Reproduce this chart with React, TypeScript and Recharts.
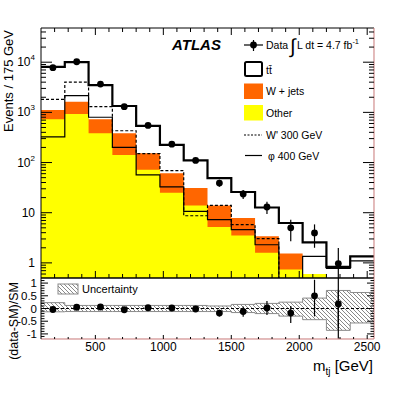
import { ComposedChart, Area, Line, Scatter, ErrorBar, XAxis, YAxis, ReferenceLine } from "recharts";

const FONT = "'Liberation Sans', Arial, Helvetica, sans-serif";
const FRAME_RED = "#c87878";
const TINY = 0.01; // axes need a non-zero size to be drawn

// 175 GeV bins
const EDGES = [100, 275, 450, 625, 800, 975, 1150, 1325, 1500, 1675, 1850, 2025, 2200, 2375, 2550];

// background stack, events per bin
const OTHER = [730, 930, 385, 142, 72, 25, 14, 5.2, 3.5, 1.6, 0.74, 0.6, 0, 0];
const WJETS = [390, 690, 345, 243, 82, 36.5, 17, 8.8, 4.35, 1.8, 0.8, 0, 0, 0];
const TTBAR = [6980, 8380, 2770, 955, 383, 163, 79, 35, 18, 9.3, 4.7, 1.97, 0.83, 1.35];

// signal hypotheses
const WPRIME_300 = [1820, 4000, 1300, 430, 150, 69, 8.7, 14, 5.8, 3.05, 0.3, 0.3, 0.3, 0.3];
const PHI_400 = [325, 2150, 800, 200, 57, 32.6, 10.6, 7.3, 4.6, 2.3, 0.3, 1.35, 0.78, 1.1];

// data
const DATA = [7760, 10200, 3670, 1300, 550, 232, 110, 39, 23.6, 13, 5.0, 3.95, 0.97];
const DATA_ERR_LO = [90, 100, 60, 36, 23, 15, 10.5, 6.2, 4.9, 3.6, 2.3, 1.95, 0.92];
const DATA_ERR_HI = [90, 100, 60, 36, 23, 15, 10.5, 6.2, 4.9, 3.6, 2.2, 1.9, 1.0];

// (data-SM)/SM
const RATIO = [-0.04, 0.05, 0.06, -0.05, 0.03, 0.02, -0.02, -0.18, -0.12, 0.02, -0.18, 0.5, 0.18];
const RATIO_ERR_LO = [0.01, 0.01, 0.02, 0.03, 0.04, 0.07, 0.09, 0.13, 0.2, 0.28, 0.39, 0.81, 1.37];
const RATIO_ERR_HI = [0.01, 0.01, 0.02, 0.03, 0.04, 0.07, 0.09, 0.13, 0.2, 0.28, 0.28, 0.63, 0.56];
const BAND_LO = [-0.13, -0.12, -0.12, -0.12, -0.12, -0.12, -0.12, -0.12, -0.16, -0.2, -0.3, -0.44, -0.86, -0.57];
const BAND_HI = [0.23, 0.12, 0.12, 0.12, 0.12, 0.12, 0.12, 0.1, 0.16, 0.2, 0.25, 0.41, 0.71, 0.63];

// axis ticks
const X_TICKS = [200, 300, 400, 500, 600, 700, 800, 900, 1000, 1100, 1200, 1300, 1400, 1500, 1600, 1700, 1800, 1900, 2000, 2100, 2200, 2300, 2400, 2500];
const X_LABELS = [500, 1000, 1500, 2000, 2500];
const LOG_MAJOR = [1, 10, 100, 1000, 10000];
const LOG_TICKS = [0.6, 0.7, 0.8, 0.9, ...LOG_MAJOR.flatMap((d) => [2, 3, 4, 5, 6, 7, 8, 9].map((m) => m * d).filter((v) => v < 48000)), ...LOG_MAJOR];
const R_MAJOR = [-1, -0.5, 0, 0.5, 1];
const R_TICKS = [-1.1, -1, -0.9, -0.8, -0.7, -0.6, -0.5, -0.4, -0.3, -0.2, -0.1, 0, 0.1, 0.2, 0.3, 0.4, 0.5, 0.6, 0.7, 0.8, 0.9, 1, 1.1];

const xTick = (dir: number, maj: number, min: number, labels: boolean) => (p: any) => {
    const v = p.payload.value;
    const isMaj = X_LABELS.includes(v);
    const len = isMaj ? maj : min;
    return (
        <g>
            <line x1={p.x} x2={p.x} y1={p.y} y2={p.y + dir * len} stroke="#000" strokeWidth={1} />
            {labels && isMaj && (
                <text x={p.x} y={p.y + 12} textAnchor="middle" fontSize={12} fontFamily={FONT} fill="#000">
                    {v}
                </text>
            )}
        </g>
    );
};

function LogLabel({ x, y, v }: { x: number; y: number; v: number }) {
    const exp = Math.round(Math.log10(v));
    if (exp <= 1) {
        return (
            <text x={x} y={y + 4} textAnchor="end" fontSize={12} fontFamily={FONT} fill="#000">
                {v}
            </text>
        );
    }
    return (
        <text x={x} y={y + 4} textAnchor="end" fontSize={12} fontFamily={FONT} fill="#000">
            10<tspan dy={-6} fontSize={8}>{exp}</tspan>
        </text>
    );
}

const logTick = (side: "left" | "right") => (p: any) => {
    const v = p.payload.value;
    const major = LOG_MAJOR.includes(v);
    const len = major ? 11 : 5;
    const dx = side === "left" ? len : -len;
    return (
        <g>
            <line x1={p.x} x2={p.x + dx} y1={p.y} y2={p.y} stroke="#000" strokeWidth={1} />
            {side === "left" && major && <LogLabel x={p.x - 6} y={p.y} v={v} />}
        </g>
    );
};

const ratioTick = (side: "left" | "right") => (p: any) => {
    const v = p.payload.value;
    const major = R_MAJOR.some((m) => Math.abs(m - v) < 1e-6);
    const len = major ? 7 : 3.5;
    const dx = side === "left" ? len : -len;
    return (
        <g>
            <line x1={p.x} x2={p.x + dx} y1={p.y} y2={p.y} stroke="#000" strokeWidth={1} />
            {side === "left" && major && (
                <text x={p.x - 4} y={p.y + 4} textAnchor="end" fontSize={11.5} fontFamily={FONT} fill="#000">
                    {v}
                </text>
            )}
        </g>
    );
};

export default function App() {
    const nb = TTBAR.length;
    const pos = (v: number) => (v > 0 ? v : 1e-3);
    const stackW = OTHER.map((o, i) => o + WJETS[i]);
    const stackT = stackW.map((s, i) => s + TTBAR[i]);

    // one row per bin edge, last edge repeats the last bin so the step closes
    const rows = EDGES.map((x, i) => {
        const k = Math.min(i, nb - 1);
        return {
            x,
            total: pos(stackT[k]),
            wjets: pos(stackW[k]),
            other: pos(OTHER[k]),
            wprime: pos(WPRIME_300[k]),
            phi: pos(PHI_400[k]),
            band: [BAND_LO[k], BAND_HI[k]],
        };
    });
    const centers = EDGES.slice(0, -1).map((e, i) => (e + EDGES[i + 1]) / 2);
    const points = DATA.map((y, i) => ({ x: centers[i], y, err: [DATA_ERR_LO[i], DATA_ERR_HI[i]] }));
    const ratioPts = RATIO.map((y, i) => ({ x: centers[i], y, err: [RATIO_ERR_LO[i], RATIO_ERR_HI[i]] }));

    const dot = (p: any) => <circle cx={p.cx} cy={p.cy} r={3.4} fill="#000" />;

    return (
        <div style={{ position: "absolute", left: 0, top: 0, width: 415, height: 399, background: "#fff" }}>
            <div style={{ position: "absolute", left: 0, top: 0 }}>
                <ComposedChart width={415} height={399} data={rows} margin={{ top: 28, right: 41, bottom: 121, left: 41 }}>
                    <Area xAxisId="b" yAxisId="l" type="stepAfter" dataKey="total" fill="#fff" fillOpacity={1} stroke="#000" strokeWidth={2.2} isAnimationActive={false} />
                    <Area xAxisId="b" yAxisId="l" type="stepAfter" dataKey="wjets" fill="#ff6600" fillOpacity={1} stroke="none" isAnimationActive={false} />
                    <Area xAxisId="b" yAxisId="l" type="stepAfter" dataKey="other" fill="#ffff00" fillOpacity={1} stroke="none" isAnimationActive={false} />
                    <Line xAxisId="b" yAxisId="l" type="stepAfter" dataKey="phi" stroke="#000" strokeWidth={1.2} dot={false} isAnimationActive={false} />
                    <Line xAxisId="b" yAxisId="l" type="stepAfter" dataKey="wprime" stroke="#000" strokeWidth={1.2} strokeDasharray="3 2" dot={false} isAnimationActive={false} />
                    <Scatter xAxisId="b" yAxisId="l" data={points} dataKey="y" shape={dot} isAnimationActive={false}>
                        <ErrorBar dataKey="err" direction="y" width={0} stroke="#000" strokeWidth={1.2} />
                    </Scatter>
                    <XAxis xAxisId="b" type="number" dataKey="x" domain={[100, 2550]} allowDataOverflow ticks={X_TICKS} interval={0} height={TINY} tickSize={0} tickMargin={0} tickLine={false} axisLine={{ stroke: "#000" }} tick={xTick(-1, 7, 4, false)} />
                    <XAxis xAxisId="t" orientation="top" type="number" dataKey="x" domain={[100, 2550]} allowDataOverflow ticks={X_TICKS} interval={0} height={TINY} tickSize={0} tickMargin={0} tickLine={false} axisLine={{ stroke: "#000" }} tick={xTick(1, 7, 4, false)} />
                    <YAxis yAxisId="l" scale="log" domain={[0.5, 48000]} allowDataOverflow ticks={LOG_TICKS} interval={0} width={TINY} tickSize={0} tickMargin={0} tickLine={false} axisLine={{ stroke: "#000" }} tick={logTick("left")} />
                    <YAxis yAxisId="r" orientation="right" scale="log" domain={[0.5, 48000]} allowDataOverflow ticks={LOG_TICKS} interval={0} width={TINY} tickSize={0} tickMargin={0} tickLine={false} axisLine={{ stroke: FRAME_RED }} tick={logTick("right")} />
                </ComposedChart>
            </div>
            <div style={{ position: "absolute", left: 0, top: 0 }}>
                <ComposedChart width={415} height={399} data={rows} margin={{ top: 278, right: 41, bottom: 60, left: 41 }}>
                    <Area xAxisId="b" yAxisId="l" type="stepAfter" dataKey="band" fill="url(#hatch)" fillOpacity={1} stroke="#8a8a8a" strokeWidth={1} isAnimationActive={false} />
                    <ReferenceLine xAxisId="b" yAxisId="l" y={0} stroke="#000" strokeDasharray="3 2" strokeWidth={1} />
                    <Scatter xAxisId="b" yAxisId="l" data={ratioPts} dataKey="y" shape={dot} isAnimationActive={false}>
                        <ErrorBar dataKey="err" direction="y" width={0} stroke="#000" strokeWidth={1.2} />
                    </Scatter>
                    <XAxis xAxisId="b" type="number" dataKey="x" domain={[100, 2550]} allowDataOverflow ticks={X_TICKS} interval={0} height={TINY} tickSize={0} tickMargin={0} tickLine={false} axisLine={{ stroke: FRAME_RED }} tick={xTick(-1, 4, 2, true)} />
                    <XAxis xAxisId="t" orientation="top" type="number" dataKey="x" domain={[100, 2550]} allowDataOverflow ticks={X_TICKS} interval={0} height={TINY} tickSize={0} tickMargin={0} tickLine={false} axisLine={{ stroke: "#000" }} tick={false} />
                    <YAxis yAxisId="l" type="number" domain={[-1.2, 1.2]} allowDataOverflow ticks={R_TICKS} interval={0} width={TINY} tickSize={0} tickMargin={0} tickLine={false} axisLine={{ stroke: "#000" }} tick={ratioTick("left")} />
                    <YAxis yAxisId="r" orientation="right" type="number" domain={[-1.2, 1.2]} allowDataOverflow ticks={R_TICKS} interval={0} width={TINY} tickSize={0} tickMargin={0} tickLine={false} axisLine={{ stroke: FRAME_RED }} tick={ratioTick("right")} />
                </ComposedChart>
            </div>
            <svg width={415} height={399} style={{ position: "absolute", left: 0, top: 0, pointerEvents: "none" }} fontFamily={FONT}>
                <defs>
                    <pattern id="hatch" patternUnits="userSpaceOnUse" width={4} height={4}>
                        <path d="M-1,-1 L5,5 M-1,3 L1,5 M3,-1 L5,1" stroke="#6a6a6a" strokeWidth={0.8} />
                    </pattern>
                </defs>

                <text x={172} y={50} fontSize={15} fontWeight="bold" fontStyle="italic" fill="#000">ATLAS</text>

                {/* legend */}
                <line x1={244} x2={263} y1={45} y2={45} stroke="#000" strokeWidth={1.2} />
                <line x1={253.5} x2={253.5} y1={40} y2={51} stroke="#000" strokeWidth={1.2} />
                <circle cx={253.5} cy={45} r={3.4} fill="#000" />
                <text x={266} y={49} fontSize={10.5} fill="#000">Data</text>
                <text x={290} y={53} fontSize={20} fill="#000">∫</text>
                <text x={297} y={49} fontSize={10.5} fill="#000">
                    L dt = 4.7 fb<tspan dy={-5} fontSize={7.5}>-1</tspan>
                </text>

                <rect x={245} y={62} width={17} height={14} rx={1.5} fill="#fff" stroke="#000" strokeWidth={2} />
                <text x={266} y={74} fontSize={10.5} fill="#000">tt̄</text>
                <rect x={244} y={83.5} width={19} height={15.5} fill="#ff6600" />
                <text x={266} y={95} fontSize={10.5} fill="#000">W + jets</text>
                <rect x={244} y={105} width={19} height={15.5} fill="#ffff00" />
                <text x={266} y={117} fontSize={10.5} fill="#000">Other</text>
                <line x1={244} x2={262} y1={135} y2={135} stroke="#000" strokeWidth={1.2} strokeDasharray="2 1.5" />
                <text x={266} y={139} fontSize={10.5} fill="#000">W' 300 GeV</text>
                <line x1={245} x2={262} y1={155.5} y2={155.5} stroke="#000" strokeWidth={1.2} />
                <text x={268} y={159.5} fontSize={10.5} fill="#000">φ  400 GeV</text>

                <rect x={58} y={284} width={20} height={10} fill="url(#hatch)" stroke="#8a8a8a" strokeWidth={1} />
                <text x={82} y={293} fontSize={11} fill="#000">Uncertainty</text>

                {/* axis titles */}
                <text transform="translate(12.5,30) rotate(-90)" textAnchor="end" fontSize={13} fill="#000">Events / 175 GeV</text>
                <text transform="translate(17.5,282) rotate(-90)" textAnchor="end" fontSize={12.5} fill="#000">(data-SM)/SM</text>
                <text x={373} y={371} textAnchor="end" fontSize={15} fill="#000">
                    m<tspan fontSize={10} dy={4}>tj</tspan>
                    <tspan dy={-4}> [GeV]</tspan>
                </text>
            </svg>
        </div>
    );
}
